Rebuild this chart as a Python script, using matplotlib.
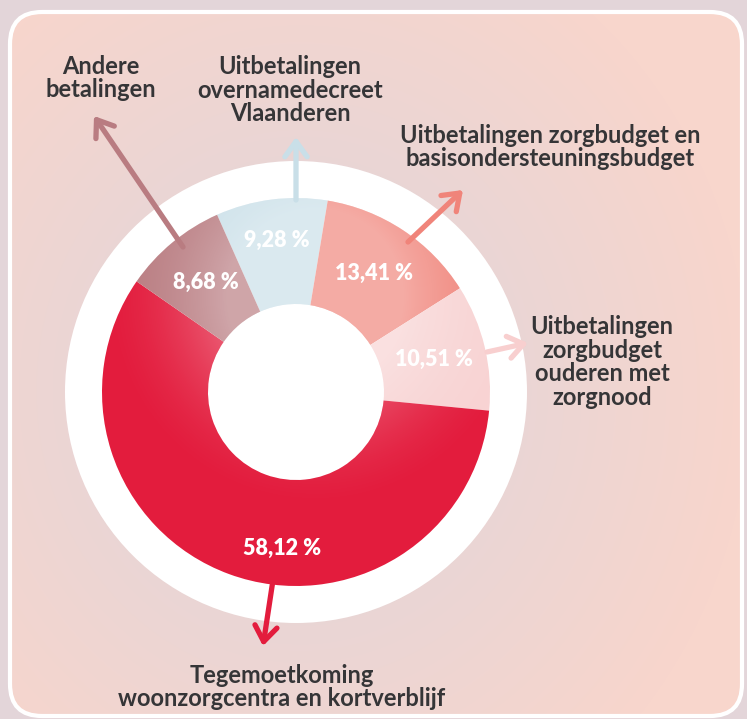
import numpy as np
import matplotlib
matplotlib.use("Agg")
import matplotlib.pyplot as plt
from matplotlib.patches import Circle, FancyBboxPatch, Wedge

# ---- data ----
categories = [
    "Uitbetalingen\novernamedecreet\nVlaanderen",
    "Uitbetalingen zorgbudget en\nbasisondersteuningsbudget",
    "Uitbetalingen\nzorgbudget\nouderen met\nzorgnood",
    "Tegemoetkoming\nwoonzorgcentra en kortverblijf",
    "Andere\nbetalingen",
]
values = [9.28, 13.41, 10.51, 58.12, 8.68]
colors = ["#c9dfe8", "#f0847a", "#f8d3d3", "#e31c3d", "#b97c81"]
arrow_colors = ["#c9dfe8", "#f0847a", "#f8cfcf", "#e31c3d", "#b97c81"]

W, H = 747, 719
fig = plt.figure(figsize=(W / 100, H / 100), dpi=100)
ax = fig.add_axes([0, 0, 1, 1])
ax.set_xlim(0, W)
ax.set_ylim(0, H)
ax.axis("off")

def Y(py):
    return H - py

# ---- background ----
yy, xx = np.mgrid[0:H, 0:W]
outer = np.array([227, 213, 217]) / 255
ax.imshow(np.ones((2, 2, 3)) * outer, extent=(0, W, 0, H), zorder=0, aspect="auto")

grey = np.array([229, 213, 216]) / 255
peach = np.array([248, 214, 204]) / 255
d = np.sqrt(((xx - 300) / 1.0) ** 2 + ((yy - 390) / 1.1) ** 2)
t = np.clip((d - 130) / 320, 0, 1)[..., None]
bg = grey * (1 - t) + peach * t
bgim = ax.imshow(bg, extent=(0, W, 0, H), origin="upper", zorder=1, aspect="auto")
rect = FancyBboxPatch((10, Y(716)), 732, 704, boxstyle="round,pad=0,rounding_size=32",
                      facecolor="none", edgecolor="white", linewidth=3, zorder=2)
ax.add_patch(rect)
bgim.set_clip_path(rect)

# ---- donut ----
cx, cy = 296, Y(392)
R, r_in = 194, 88
ax.add_patch(Circle((cx, cy), 231, facecolor="white", edgecolor="none", zorder=3))

wedges, _ = ax.pie(values, colors=colors, radius=R, center=(cx, cy), startangle=114,
                   counterclock=False, wedgeprops=dict(width=R - r_in, linewidth=0),
                   frame=True)
for w in wedges:
    w.set_zorder(4)
ax.set_xlim(0, W)
ax.set_ylim(0, H)
ax.axis("off")

# soft radial glow on the ring
rr = np.sqrt((xx - 315) ** 2 + ((H - yy) - (cy - 30)) ** 2)
alpha = np.clip(1 - (rr - r_in) / 130, 0, 1) ** 1.8 * 0.32
glow = np.ones((H, W, 4))
glow[..., 3] = alpha
gim = ax.imshow(glow, extent=(0, W, 0, H), origin="lower", zorder=5, aspect="auto")
ring = Wedge((cx, cy), R, 0, 360, width=R - r_in, transform=ax.transData,
             facecolor="none", edgecolor="none")
ax.add_patch(ring)
gim.set_clip_path(ring)

# ---- percentage labels ----
label_angle_override = {3: 185}
label_r = [153, 142, 142, 157, 142]
for i, w in enumerate(wedges):
    mid = 0.5 * (w.theta1 + w.theta2)
    if i in label_angle_override:
        mid = 90 - label_angle_override[i]
    a = np.deg2rad(mid)
    txt = f"{values[i]:.2f}".replace(".", ",") + " %"
    ax.text(cx + label_r[i] * np.cos(a), cy + label_r[i] * np.sin(a), txt,
            ha="center", va="center", color="white", fontsize=15.5,
            fontweight="heavy", family="Lato", zorder=6)

# ---- category labels and arrows ----
label_pos = [(290, 90), (550, 147), (602, 362), (282, 687), (101, 78)]
arrow_start = [(296, 200), (408, 242), (487, 352), (273, 580), (183, 247)]
arrow_end = [(296, 137), (463, 190), (528, 343), (263, 646), (94, 116)]
for i in range(len(values)):
    ax.text(label_pos[i][0], Y(label_pos[i][1]), categories[i], ha="center", va="center",
            color="#353537", fontsize=17, fontweight="bold", family="Lato",
            linespacing=1.02, zorder=6)
    ax.annotate("", xy=(arrow_end[i][0], Y(arrow_end[i][1])),
                xytext=(arrow_start[i][0], Y(arrow_start[i][1])),
                arrowprops=dict(arrowstyle="->,head_length=0.55,head_width=0.4",
                                color=arrow_colors[i], lw=3.8, capstyle="round",
                                joinstyle="round", mutation_scale=20,
                                shrinkA=0, shrinkB=0),
                zorder=7)

fig.savefig("out.png", dpi=100)
